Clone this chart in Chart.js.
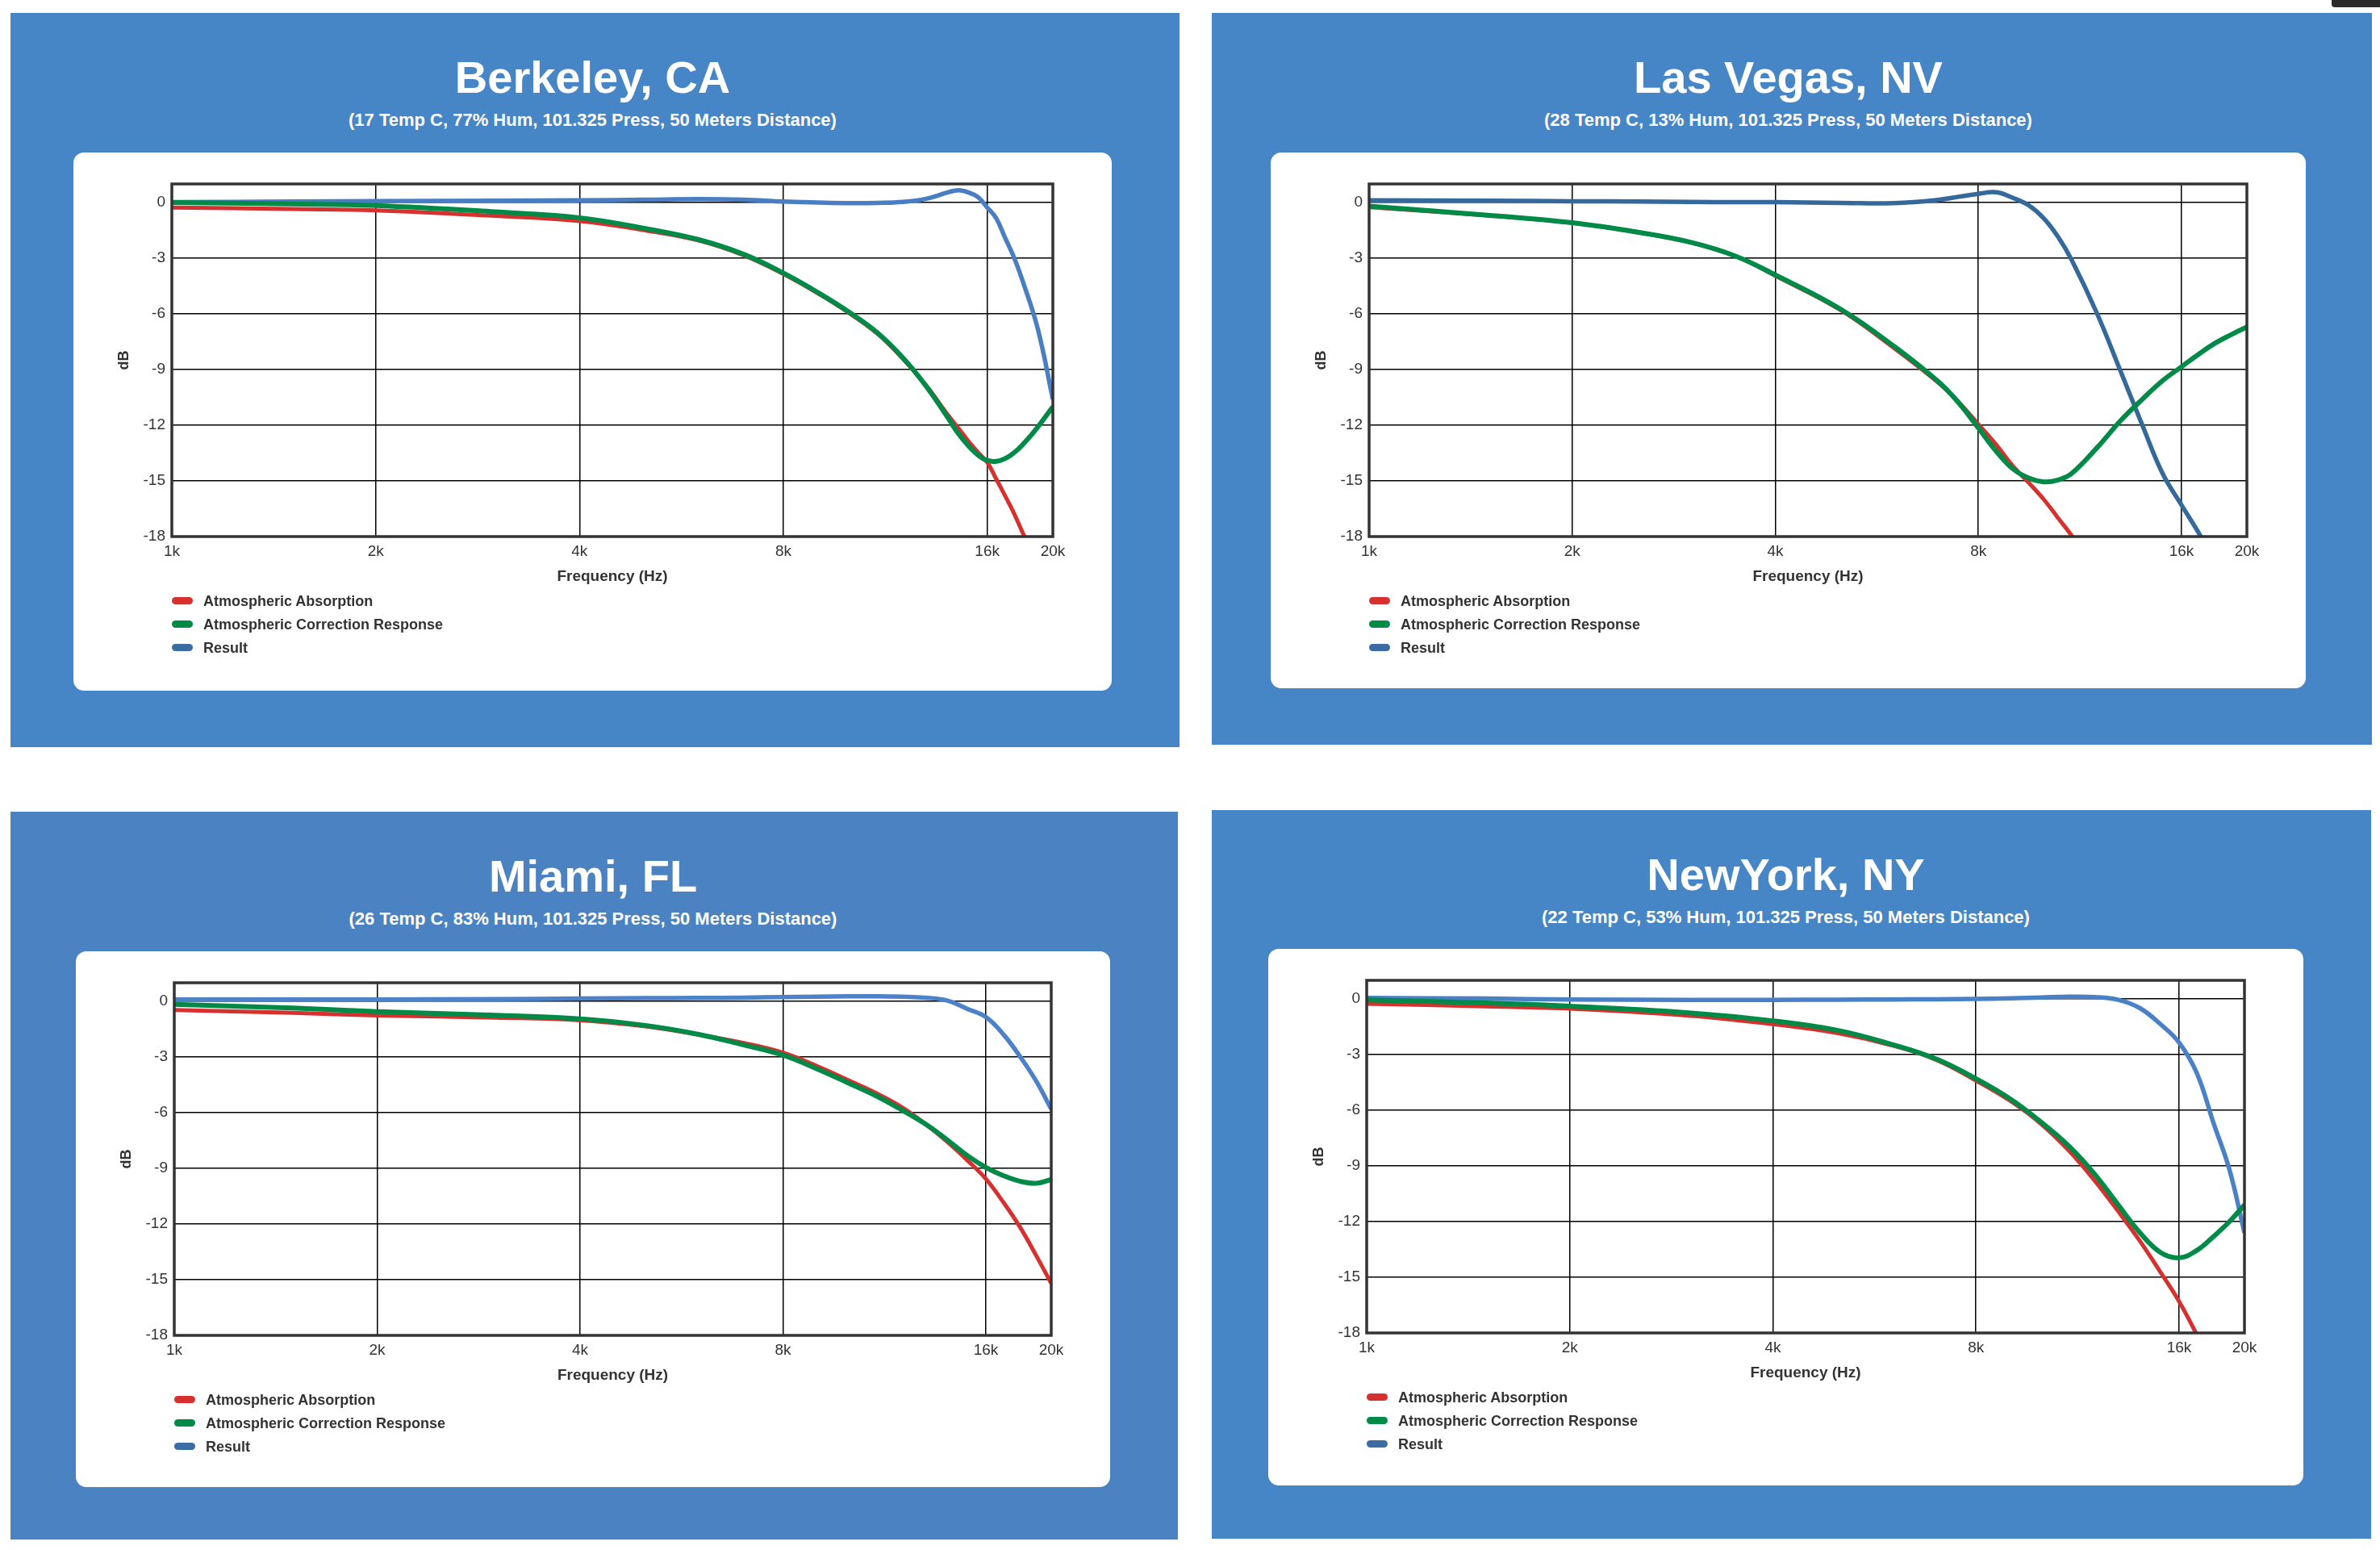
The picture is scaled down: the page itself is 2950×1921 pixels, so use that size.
<!DOCTYPE html>
<html>
<head>
<meta charset="utf-8">
<title>Atmospheric absorption by city</title>
<script src="https://cdn.jsdelivr.net/npm/chart.js@4.4.1/dist/chart.umd.min.js"></script>
<style>
  body { margin: 0; width: 2950px; height: 1921px; position: relative; overflow: hidden; background: #fff;
         font-family: "Liberation Sans", Arial, Helvetica, sans-serif; }
  .panel { position: absolute; background: #4685c6; }
  .head { position: absolute; top: 0; height: 173px; color: #fff; font-weight: bold; text-align: center; }
  .head .title { position: absolute; left: 0; right: 0; top: 52px; font-size: 56px; line-height: 56px; }
  .head .sub { position: absolute; left: 0; right: 0; top: 122px; font-size: 22px; line-height: 22px; }
  .card { position: absolute; top: 173px; background: #fff; border-radius: 13px; }
  .card canvas { position: absolute; left: 0; top: 0; }
  .legend { position: absolute; left: 122px; top: 542px; }
  .legend div { height: 29px; line-height: 29px; font-size: 18px; font-weight: bold; color: #333; white-space: nowrap; }
  .legend span { display: inline-block; width: 26px; height: 9px; border-radius: 5px; vertical-align: middle;
                 margin: -3px 13px 0 0; }
  .corner { position: absolute; left: 2890px; top: 0; width: 60px; height: 9px; background: #2b2b2b;
            border-bottom-left-radius: 4px; }
</style>
</head>
<body>

<div class="corner"></div>

<div class="panel" style="left:13px;top:16px;width:1449px;height:910px">
  <div class="head" style="left:78px;width:1287px">
    <div class="title">Berkeley, CA</div>
    <div class="sub">(17 Temp C, 77% Hum, 101.325 Press, 50 Meters Distance)</div>
  </div>
  <div class="card" style="left:78px;width:1287px;height:667px">
    <canvas id="berkeley" width="1287" height="545"></canvas>
    <div class="legend" id="berkeleyLegend"></div>
  </div>
</div>

<div class="panel" style="left:1502px;top:16px;width:1438px;height:907px">
  <div class="head" style="left:73px;width:1283px">
    <div class="title">Las Vegas, NV</div>
    <div class="sub">(28 Temp C, 13% Hum, 101.325 Press, 50 Meters Distance)</div>
  </div>
  <div class="card" style="left:73px;width:1283px;height:664px">
    <canvas id="vegas" width="1283" height="545"></canvas>
    <div class="legend" id="vegasLegend"></div>
  </div>
</div>

<div class="panel" style="left:13px;top:1006px;width:1447px;height:902px;background:#4b83c2">
  <div class="head" style="left:81px;width:1282px">
    <div class="title">Miami, FL</div>
    <div class="sub">(26 Temp C, 83% Hum, 101.325 Press, 50 Meters Distance)</div>
  </div>
  <div class="card" style="left:81px;width:1282px;height:664px">
    <canvas id="miami" width="1282" height="545"></canvas>
    <div class="legend" id="miamiLegend"></div>
  </div>
</div>

<div class="panel" style="left:1502px;top:1004px;width:1437px;height:903px">
  <div class="head" style="left:70px;width:1283px">
    <div class="title">NewYork, NY</div>
    <div class="sub">(22 Temp C, 53% Hum, 101.325 Press, 50 Meters Distance)</div>
  </div>
  <div class="card" style="left:70px;top:172px;width:1283px;height:665px">
    <canvas id="newyork" width="1283" height="545"></canvas>
    <div class="legend" id="newyorkLegend"></div>
  </div>
</div>

<script>
// axis ticks (Hz, dB)
const xTicks = [1000, 2000, 4000, 8000, 16000, 20000];
const yTicks = [0, -3, -6, -9, -12, -15, -18];
const seriesNames = ['Atmospheric Absorption', 'Atmospheric Correction Response', 'Result'];

// Berkeley, CA
const freqBerkeley = [1000, 1500, 2000, 3000, 4000, 5000, 6000, 7000, 8000, 9000, 10000, 11000, 12000,
                      13000, 14000, 14500, 15000, 15500, 16000, 16500, 17000, 17500, 18000, 19000, 20000];
const absorptionBerkeley = [-0.27, -0.35, -0.42, -0.72, -1.0, -1.5, -2.05, -2.85, -3.85, -4.9, -5.95, -7.05, -8.4,
                            -9.85, -11.45, -12.15, -12.85, -13.45, -14.0, -14.9, -15.8, -16.7, -17.7, -19.6, -21.5];
const correctionBerkeley = [0.0, -0.08, -0.16, -0.5, -0.82, -1.4, -2.0, -2.8, -3.8, -4.85, -5.9, -7.0, -8.35,
                            -9.9, -11.6, -12.45, -13.1, -13.6, -13.9, -13.95, -13.8, -13.5, -13.1, -12.1, -11.0];
const resultBerkeley = [0.02, 0.05, 0.08, 0.1, 0.12, 0.15, 0.18, 0.15, 0.05, 0.0, -0.03, -0.02, 0.03,
                        0.2, 0.55, 0.66, 0.55, 0.3, -0.27, -0.85, -1.9, -2.9, -4.1, -6.8, -10.6];

// Las Vegas, NV
const freqVegas = [1000, 1500, 2000, 2500, 3000, 3500, 4000, 5000, 6000, 7000, 7500, 8000, 8500, 9000,
                   9500, 10000, 10500, 11000, 12000, 13000, 14000, 15000, 16000, 17000, 18000, 19000, 20000];
const absorptionVegas = [-0.25, -0.7, -1.1, -1.6, -2.15, -2.9, -3.95, -5.8, -7.85, -9.75, -10.8, -11.95, -13.05, -14.2,
                         -15.1, -16.0, -17.0, -17.95, -20.0, -22.2, -24.4, -26.6, -28.8, -31.0, -33.0, -35.0, -37.0];
const correctionVegas = [-0.2, -0.68, -1.09, -1.6, -2.15, -2.9, -3.9, -5.75, -7.75, -9.7, -10.85, -12.15, -13.4, -14.35,
                         -14.85, -15.05, -14.95, -14.6, -13.2, -11.75, -10.6, -9.6, -8.85, -8.15, -7.55, -7.1, -6.7];
const resultVegas = [0.12, 0.1, 0.07, 0.05, 0.03, 0.02, 0.02, -0.02, -0.03, 0.15, 0.32, 0.47, 0.55, 0.25,
                     -0.15, -0.85, -1.85, -3.1, -6.0, -9.1, -12.0, -14.6, -16.3, -17.85, -19.4, -20.8, -22.1];

// Miami, FL
const freqMiami = [1000, 1500, 2000, 3000, 4000, 5000, 6000, 7000, 8000, 9000, 10000,
                   11000, 12000, 13000, 14000, 15000, 16000, 17000, 18000, 19000, 20000];
const absorptionMiami = [-0.47, -0.62, -0.76, -0.88, -1.02, -1.35, -1.8, -2.25, -2.77, -3.5, -4.25,
                         -4.95, -5.7, -6.6, -7.55, -8.55, -9.57, -10.85, -12.2, -13.7, -15.2];
const correctionMiami = [-0.16, -0.36, -0.55, -0.75, -0.94, -1.3, -1.78, -2.35, -2.9, -3.65, -4.4,
                         -5.1, -5.85, -6.6, -7.45, -8.3, -8.95, -9.4, -9.7, -9.8, -9.6];
const resultMiami = [0.1, 0.1, 0.1, 0.12, 0.15, 0.17, 0.18, 0.2, 0.23, 0.25, 0.27,
                     0.27, 0.25, 0.2, 0.05, -0.4, -0.85, -1.8, -3.0, -4.3, -5.8];

// NewYork, NY
const freqNewYork = [1000, 1500, 2000, 3000, 4000, 5000, 6000, 7000, 8000, 9000, 10000,
                     11000, 12000, 13000, 14000, 15000, 16000, 17000, 18000, 19000, 20000];
const absorptionNewYork = [-0.26, -0.4, -0.52, -0.9, -1.36, -1.85, -2.5, -3.3, -4.4, -5.5, -6.75,
                           -8.2, -9.8, -11.45, -13.05, -14.7, -16.3, -18.1, -20.0, -21.8, -23.5];
const correctionNewYork = [-0.05, -0.22, -0.39, -0.75, -1.18, -1.7, -2.45, -3.25, -4.3, -5.4, -6.65,
                           -7.95, -9.45, -11.1, -12.6, -13.65, -13.95, -13.55, -12.8, -12.0, -11.1];
const resultNewYork = [0.05, 0.02, -0.03, -0.05, -0.05, -0.04, -0.03, -0.02, 0.0, 0.03, 0.08,
                       0.12, 0.1, -0.05, -0.5, -1.35, -2.35, -4.0, -6.7, -9.2, -12.6];

const redColor = '#d6302f';
const greenColor = '#008a47';
const legendBlue = '#3b6ca3';

Chart.defaults.font.family = '"Liberation Sans", Arial, Helvetica, sans-serif';

// thick frame round the plot area
const plotFrame = {
    id: 'plotFrame',
    afterDatasetsDraw(chart) {
        const { ctx, chartArea: a } = chart;
        ctx.save();
        ctx.strokeStyle = '#333';
        ctx.lineWidth = 3.5;
        ctx.strokeRect(a.left, a.top, a.right - a.left, a.bottom - a.top);
        ctx.restore();
    }
};

function drawChart(id, freq, absorption, correction, result, resultColor) {
    const gridStyle = { color: '#000', lineWidth: 1.5, drawTicks: false };

    const chart = new Chart(document.getElementById(id), {
        type: 'line',
        data: {
            labels: freq,
            datasets: [
                { label: seriesNames[0], data: absorption, borderColor: redColor, borderWidth: 5, order: 3, legendColor: redColor },
                { label: seriesNames[1], data: correction, borderColor: greenColor, borderWidth: 6, order: 1, legendColor: greenColor },
                { label: seriesNames[2], data: result, borderColor: resultColor, borderWidth: 5.5, order: 2, legendColor: legendBlue }
            ]
        },
        options: {
            responsive: false,
            animation: false,
            devicePixelRatio: 1,
            layout: { padding: { top: 39, right: 73, left: 0, bottom: 0 } },
            elements: {
                point: { radius: 0 },
                line: { tension: 0.4, fill: false }
            },
            datasets: { line: { clip: 0 } },
            plugins: { legend: { display: false }, tooltip: { enabled: false } },
            scales: {
                x: {
                    type: 'logarithmic',
                    min: 1000,
                    max: 20000,
                    afterBuildTicks: s => { s.ticks = xTicks.map(v => ({ value: v })); },
                    afterFit: s => { s.height = 69; },
                    grid: gridStyle,
                    border: { display: false },
                    ticks: {
                        autoSkip: false, maxRotation: 0, padding: 7, color: '#333',
                        font: { size: 19 },
                        callback: v => (v / 1000) + 'k'
                    },
                    title: {
                        display: true, text: 'Frequency (Hz)', color: '#333',
                        font: { size: 19, weight: 'bold' }, padding: { top: 0, bottom: 8 }
                    }
                },
                y: {
                    min: -18,
                    max: 1,
                    afterBuildTicks: s => { s.ticks = yTicks.map(v => ({ value: v })); },
                    afterFit: s => { s.width = 122; },
                    grid: gridStyle,
                    border: { display: false },
                    ticks: { padding: 8, color: '#333', font: { size: 19 } },
                    title: {
                        display: true, text: 'dB', color: '#333',
                        font: { size: 18, weight: 'bold' }, padding: { top: 52, bottom: 0 }
                    }
                }
            }
        },
        plugins: [plotFrame]
    });

    // legend as a vertical list under the plot
    const legend = document.getElementById(id + 'Legend');
    chart.data.datasets.forEach(ds => {
        const row = document.createElement('div');
        const mark = document.createElement('span');
        mark.style.background = ds.legendColor;
        row.appendChild(mark);
        row.appendChild(document.createTextNode(ds.label));
        legend.appendChild(row);
    });
}

drawChart('berkeley', freqBerkeley, absorptionBerkeley, correctionBerkeley, resultBerkeley, '#4a7ec4');
drawChart('vegas', freqVegas, absorptionVegas, correctionVegas, resultVegas, '#35699b');
drawChart('miami', freqMiami, absorptionMiami, correctionMiami, resultMiami, '#4d82c8');
drawChart('newyork', freqNewYork, absorptionNewYork, correctionNewYork, resultNewYork, '#4a80c6');
</script>
</body>
</html>
